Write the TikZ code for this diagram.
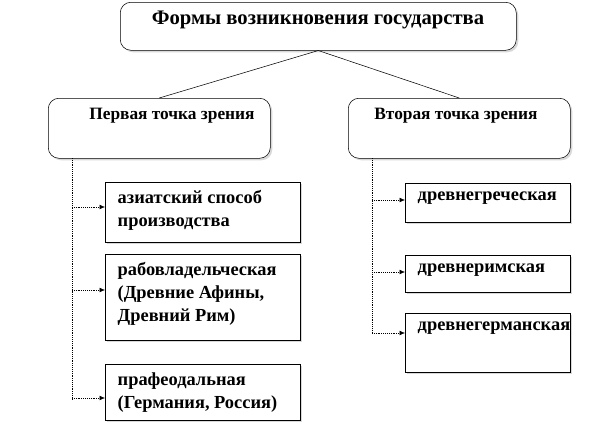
\documentclass[tikz,border=0pt]{standalone}
\usepackage{fontspec}
\setmainfont{Liberation Serif}
\usetikzlibrary{arrows.meta,shadows}
\tikzset{topbox/.style={draw, thin, fill=white, rounded corners=8pt, drop shadow={shadow xshift=1.5pt, shadow yshift=-1.5pt, fill=gray!60},
    anchor=north west, inner sep=0pt}}
\tikzset{leafbox/.style={draw, thin, fill=white, drop shadow={shadow xshift=1.5pt, shadow yshift=-1.5pt, fill=gray!60},
    anchor=north west, inner sep=0pt}}
\tikzset{label/.style={font=\fontsize{13}{17}\selectfont\bfseries, align=left}}
\tikzset{leaflabel/.style={label, font=\fontsize{13.8}{17.2}\selectfont\bfseries, anchor=north west}}
\tikzset{link/.style={thin, densely dotted}}
\tikzstyle{arrow} = [link, -{Latex[length=4pt,width=3.5pt]}]

\begin{document}
\begin{tikzpicture}[x=0.75pt, y=-0.75pt]
	\useasboundingbox (0,0) rectangle (612,447);
	% Nodes
	\node (forms) [topbox, minimum width=396*0.75pt, minimum height=48*0.75pt] at (120,2) {};
	\node (formstext) [label, font=\fontsize{15.5}{17}\selectfont\bfseries] at (318,20) {Формы возникновения государства};

	\node (first) [topbox, minimum width=222*0.75pt, minimum height=60*0.75pt] at (48,98) {};
	\node (firsttext) [label] at (172,116) {Первая точка зрения};
	\node (second) [topbox, minimum width=222*0.75pt, minimum height=60*0.75pt] at (348,98) {};
	\node (secondtext) [label] at (456,116) {Вторая точка зрения};

	\node (asian) [leafbox, minimum width=195*0.75pt, minimum height=60*0.75pt] at (105,182) {};
	\node (asiantext) [leaflabel] at (113,186) {азиатский способ\\производства};
	\node (slave) [leafbox, minimum width=195*0.75pt, minimum height=86*0.75pt] at (105,254) {};
	\node (slavetext) [leaflabel] at (113,258) {рабовладельческая\\(Древние Афины,\\Древний Рим)};
	\node (prefeudal) [leafbox, minimum width=195*0.75pt, minimum height=56*0.75pt] at (105,364) {};
	\node (prefeudaltext) [leaflabel] at (113,368) {прафеодальная\\(Германия, Россия)};

	\node (greek) [leafbox, minimum width=165*0.75pt, minimum height=39*0.75pt] at (405,183) {};
	\node (greektext) [leaflabel] at (413,187) {древнегреческая};
	\node (roman) [leafbox, minimum width=165*0.75pt, minimum height=37*0.75pt] at (405,255) {};
	\node (romantext) [leaflabel] at (413,259) {древнеримская};
	\node (german) [leafbox, minimum width=165*0.75pt, minimum height=59*0.75pt] at (405,313) {};
	\node (germantext) [leaflabel] at (413,317) {древнегерманская};

	\coordinate (lstem) at (72,158);
	\coordinate (lend) at (72,400);
	\coordinate (rstem) at (372,158);
	\coordinate (rend) at (372,333);
	\coordinate (ja) at (72,207);
	\coordinate (jb) at (72,290);
	\coordinate (jc) at (72,398);
	\coordinate (jd) at (372,200);
	\coordinate (je) at (372,272);
	\coordinate (jf) at (372,333);

	% Connectors
	\draw [thin] (forms.south) -- (first.north);
	\draw [thin] (forms.south) -- (second.north);
	\draw [link] (lstem) -- (lend);
	\draw [link] (rstem) -- (rend);
	\draw [arrow] (ja) -- (ja -| asian.west);
	\draw [arrow] (jb) -- (jb -| slave.west);
	\draw [arrow] (jc) -- (jc -| prefeudal.west);
	\draw [arrow] (jd) -- (jd -| greek.west);
	\draw [arrow] (je) -- (je -| roman.west);
	\draw [arrow] (jf) -- (jf -| german.west);
\end{tikzpicture}
\end{document}
